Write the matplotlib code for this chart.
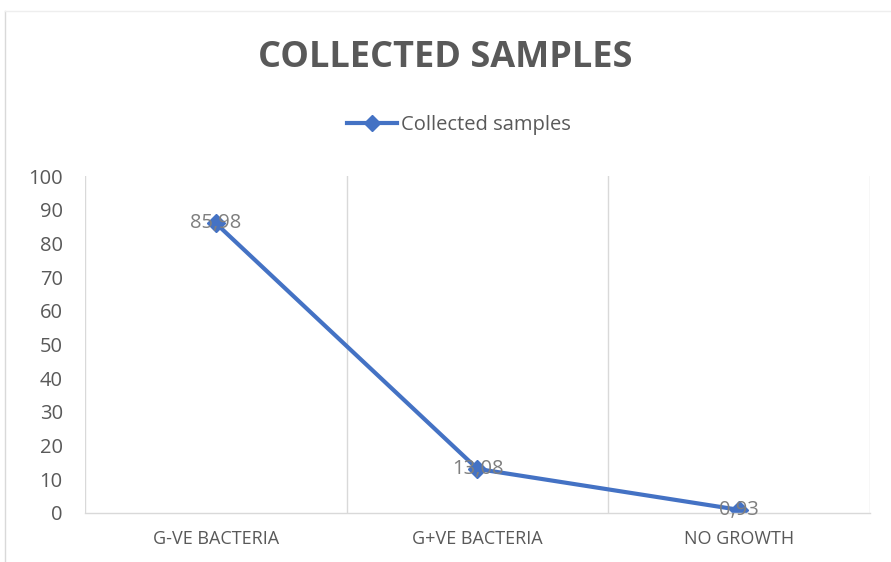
import matplotlib.pyplot as plt
from matplotlib.lines import Line2D

categories = ['G-VE BACTERIA', 'G+VE BACTERIA', 'NO GROWTH']
values = [85.98, 13.08, 0.93]
value_labels = ['85,98', '13,08', '0,93']
yticks = [0, 10, 20, 30, 40, 50, 60, 70, 80, 90, 100]

plt.rcParams['font.family'] = ['Open Sans', 'DejaVu Sans']

fig = plt.figure(figsize=(8.91, 5.62), dpi=100)
ax = fig.add_axes([0.0954, 0.0872, 0.881, 0.5996])

x = list(range(len(categories)))
ax.plot(x, values, color='#4472C4', linewidth=3, marker='D', markersize=9,
        label='Collected samples')
for xi, v, lab in zip(x, values, value_labels):
    ax.text(xi, v, lab, ha='center', va='center', fontsize=14.5, color='#7f7f7f')

ax.set_xlim(-0.5, len(categories) - 0.5)
ax.set_ylim(0, 100)
ax.set_yticks(yticks)
ax.set_yticklabels([str(t) for t in yticks], fontsize=14.5, color='#595959')
ax.set_xticks(x)
ax.set_xticklabels(categories, fontsize=13, color='#595959')
ax.tick_params(length=0)
ax.tick_params(axis='x', pad=12)
ax.tick_params(axis='y', pad=16)

for b in [0.5, 1.5, 2.5]:
    ax.axvline(b, color='#d9d9d9', linewidth=1, zorder=0)
for s in ['top', 'right', 'left']:
    ax.spines[s].set_visible(False)
ax.spines['bottom'].set_color('#d9d9d9')
ax.spines['bottom'].set_linewidth(1)
ax.axvline(-0.5, color='#d9d9d9', linewidth=1, zorder=0)

fig.text(0.5, 0.897, 'COLLECTED SAMPLES', ha='center', va='center',
         fontsize=26, fontweight='bold', color='#595959')

handle = Line2D([], [], color='#4472C4', linewidth=3, marker='D', markersize=8)
fig.legend([handle], ['Collected samples'], loc='center', bbox_to_anchor=(0.515, 0.778),
           frameon=False, fontsize=14.5, handlelength=2.5, handletextpad=0.2,
           labelcolor='#595959')

# outer chart border
fig.add_artist(Line2D([0.006, 0.006], [0.0, 0.98], color='#d9d9d9', linewidth=1))
fig.add_artist(Line2D([0.006, 1.0], [0.98, 0.98], color='#eeeeee', linewidth=1))

fig.savefig('out.png', dpi=100)
